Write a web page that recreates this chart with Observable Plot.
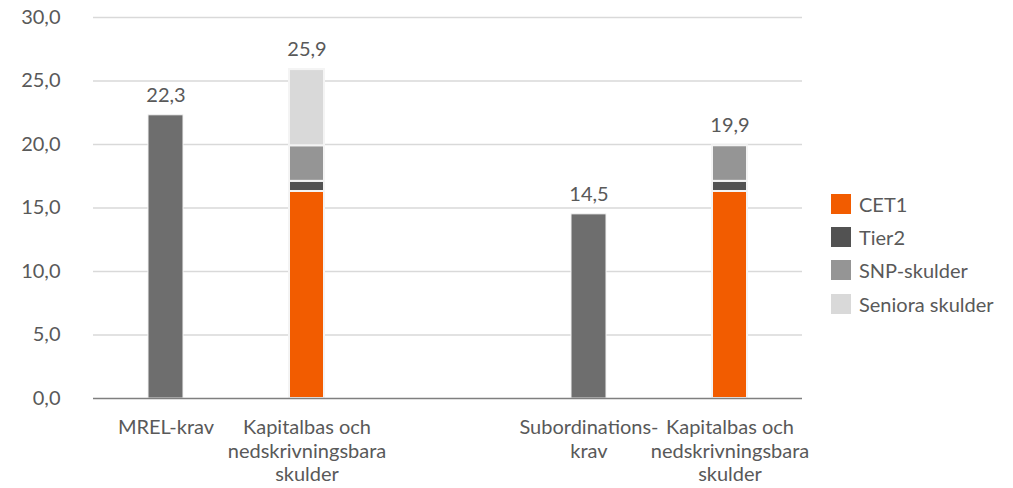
<!DOCTYPE html>
<html>
<head>
<meta charset="utf-8">
<script src="https://cdn.jsdelivr.net/npm/d3@7"></script>
<script src="https://cdn.jsdelivr.net/npm/@observablehq/plot@0.6"></script>
<style>
  body { margin: 0; background: #fff; }
  #wrap { position: relative; width: 1013px; height: 488px; font-family: Lato, sans-serif; }
  #legend { position: absolute; left: 831px; top: 187px; }
  .item { display: flex; align-items: center; height: 33.3px; font-size: 20px; color: #595959; }
  .sw { width: 20px; height: 20px; margin-right: 8px; }
</style>
</head>
<body>
<div id="wrap"><div id="chart"></div><div id="legend"></div></div>
<script>
const keys = ["mrel", "kap1", "gap", "sub", "kap2"];
const labels = ["MREL-krav", "Kapitalbas och\nnedskrivningsbara\nskulder", "", "Subordinations-\nkrav", "Kapitalbas och\nnedskrivningsbara\nskulder"];
const requirementKeys = ["mrel", "sub"];
const requirementValues = [22.3, 14.5];
const capitalKeys = ["kap1", "kap2"];
const seriesNames = ["CET1", "Tier2", "SNP-skulder", "Seniora skulder"];
const cet1 = [16.3, 16.3];
const tier2 = [0.8, 0.8];
const snp = [2.8, 2.8];
const senior = [6.0, 0];
const seriesColors = ["#f25c00", "#525252", "#959595", "#d9d9d9"];
const requirementColor = "#6e6e6e";
const yTicks = [0, 5, 10, 15, 20, 25, 30];

const seriesValues = [cet1, tier2, snp, senior];
const stackRows = [];
capitalKeys.forEach((k, i) => seriesNames.forEach((s, j) => {
  if (seriesValues[j][i] > 0) stackRows.push({key: k, series: s, value: seriesValues[j][i]});
}));
const reqRows = requirementKeys.map((k, i) => ({key: k, value: requirementValues[i]}));
const totals = [
  ...reqRows,
  ...capitalKeys.map((k, i) => ({key: k, value: seriesValues.reduce((a, s) => a + s[i], 0)}))
];
const fmt = v => v.toFixed(1).replace(".", ",");
const labelOf = Object.fromEntries(keys.map((k, i) => [k, labels[i]]));

const chart = Plot.plot({
  width: 1013,
  height: 488,
  marginTop: 17,
  marginBottom: 90,
  marginLeft: 93,
  marginRight: 211,
  style: {fontFamily: "Lato, sans-serif", color: "#595959", fontSize: "20px"},
  x: {domain: keys, paddingInner: 0.753, paddingOuter: 0.3765, label: null},
  y: {domain: [0, 30], ticks: yTicks, label: null},
  color: {domain: seriesNames, range: seriesColors},
  marks: [
    Plot.gridY(yTicks.filter(t => t > 0), {stroke: "#d9d9d9", strokeOpacity: 1, strokeWidth: 1.5}),
    Plot.axisY(yTicks, {tickSize: 0, tickPadding: 33, tickFormat: fmt, fontSize: 20, fill: "#595959", label: null}),
    Plot.axisX({tickSize: 0, tickPadding: 19, tickFormat: k => labelOf[k], fontSize: 20, lineHeight: 1.17, fill: "#595959", label: null}),
    Plot.barY(reqRows, {x: "key", y: "value", fill: requirementColor, stroke: "#f4f4f4", strokeWidth: 1}),
    Plot.barY(stackRows, {x: "key", y: "value", fill: "series", order: seriesNames, stroke: "#f4f4f4", strokeWidth: 2}),
    Plot.ruleY([0], {stroke: "#7f7f7f", strokeWidth: 1.5}),
    Plot.text(totals, {x: "key", y: "value", text: d => fmt(d.value), dy: -20, fontSize: 20, fill: "#595959"})
  ]
});
document.getElementById("chart").appendChild(chart);

const legend = document.getElementById("legend");
seriesNames.forEach((s, i) => {
  const it = document.createElement("div");
  it.className = "item";
  it.innerHTML = `<div class="sw" style="background:${seriesColors[i]}"></div><span>${s}</span>`;
  legend.appendChild(it);
});
</script>
</body>
</html>
